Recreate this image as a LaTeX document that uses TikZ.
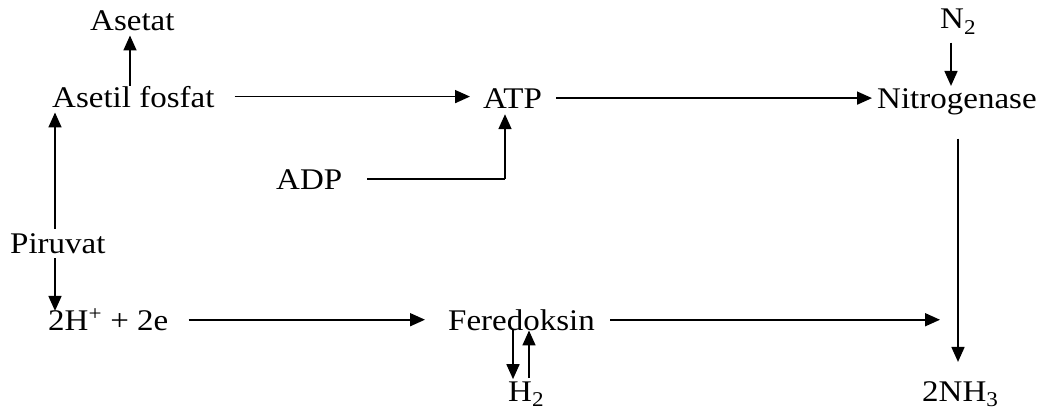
\documentclass[tikz,border=0pt]{standalone}
\usepackage{fontspec}
\usepackage{graphicx}
\setmainfont{Liberation Serif}
\usetikzlibrary{arrows.meta}
% slightly widened lettering
\newcommand{\sx}[1]{\scalebox{1.1}[1]{#1}}
\tikzset{
  txt/.style={inner sep=0pt, anchor=base west, font=\fontsize{30}{35}\selectfont},
  arr/.style={line width=1.7pt, -{Triangle[length=15pt,width=13pt]}},
  ln/.style={line width=1.7pt}
}
\begin{document}
\begin{tikzpicture}[x=1pt,y=-1pt]
\useasboundingbox (0,0) rectangle (1043,412);
% compounds
\node[txt] (asetat)  at (90,31)   {\sx{Asetat}};
\node[txt] (afos)    at (52,107)  {\sx{Asetil fosfat}};
\node[txt] (atp)     at (483,108) {\sx{ATP}};
\node[txt] (nitro)   at (877,108) {\sx{Nitrogenase}};
\node[txt] (n2)      at (940,29)  {\sx{N\textsubscript{2}}};
\node[txt] (adp)     at (276,189) {\sx{ADP}};
\node[txt] (piruvat) at (10,253)  {\sx{Piruvat}};
\node[txt] (hplus)   at (48,330)  {\sx{2H\textsuperscript{+} + 2e}};
\node[txt] (fer)     at (448,330) {\sx{Feredoksin}};
\node[txt] (h2)      at (508,401) {\sx{H\textsubscript{2}}};
\node[txt] (nh3)     at (922,401) {\sx{2NH\textsubscript{3}}};
% columns of the vertical connectors
\coordinate (xA) at (130,0);
\coordinate (xP) at (55,0);
\coordinate (xN) at (951,0);
\coordinate (xM) at (958,0);
\coordinate (xT) at (505,0);
\coordinate (xD) at (513,0);
\coordinate (xU) at (529,0);
\coordinate (xF) at (940,0);
% upper branch
\draw[arr, shorten >=4pt] (xA |- afos.north) -- (xA |- asetat.south);
\draw[arr, shorten <=20pt, shorten >=13pt] (afos.east) -- (afos.east -| atp.west);
\draw[arr, shorten <=14pt, shorten >=5pt] (atp.east) -- (atp.east -| nitro.west);
\draw[ln, shorten <=25pt] (adp.east) -- (xT |- adp.east);
\draw[arr, shorten >=6pt] (xT |- adp.east) -- (xT |- atp.south);
\draw[arr, shorten <=8pt, shorten >=2pt] (xN |- n2.south) -- (xN |- nitro.north);
% pyruvate
\draw[arr, shorten <=4pt, shorten >=5pt] (xP |- piruvat.north) -- (xP |- afos.south);
\draw[arr, shorten <=5pt, shorten >=-2pt] (xP |- piruvat.south) -- (xP |- hplus.north);
% lower branch
\draw[arr, shorten <=20pt, shorten >=23pt] (hplus.east) -- (hplus.east -| fer.west);
\draw[arr, shorten <=15pt] (fer.east) -- (fer.east -| xF);
\draw[arr, shorten >=2pt] (xD |- fer.south) -- (xD |- h2.north);
\draw[arr, shorten <=3pt] (xU |- h2.north) -- (xU |- fer.south);
\draw[arr, shorten <=24pt, shorten >=19pt] (xM |- nitro.south) -- (xM |- nh3.north);
\end{tikzpicture}
\end{document}
